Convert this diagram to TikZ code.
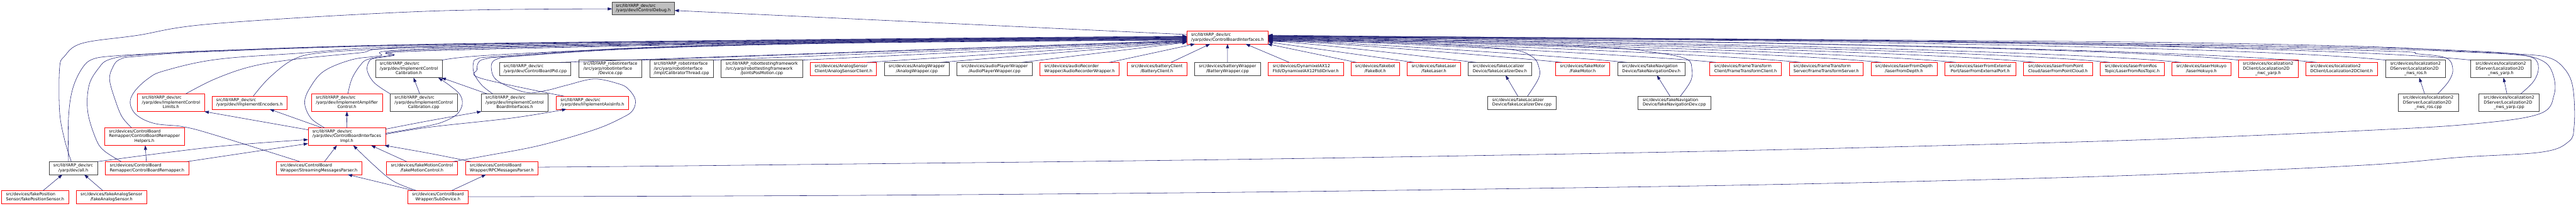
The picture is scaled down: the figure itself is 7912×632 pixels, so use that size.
\documentclass[tikz,border=0pt]{standalone}
\usepackage{fontspec}
\setmainfont{DejaVu Sans}
\usetikzlibrary{arrows.meta,calc}
\definecolor{eblue}{HTML}{191970}
\definecolor{nbord}{HTML}{404040}
\definecolor{rootfill}{HTML}{BFBFBF}
\newcommand\lbl[2]{\begin{tabular}{@{}l@{}}#1\\\multicolumn{1}{@{}c@{}}{#2}\end{tabular}}
\newcommand\mknode[8]{%
 \pgfmathsetmacro\mkW{(#4-#3)*0.75}%
 \pgfmathsetmacro\mkH{#6*0.75}%
 \pgfmathsetmacro\mkX{(#3+#4)/2}%
 \node[#1,minimum width=\mkW pt,minimum height=\mkH pt] (#2) at (\mkX,#5) {\lbl{#7}{#8}};}
\begin{document}
\begin{tikzpicture}[x=0.75pt,y=-0.75pt,
 nb/.style={draw=nbord,line width=1pt,fill=white,inner sep=0pt,outer sep=0pt,font=\fontsize{9.5}{11.2}\selectfont},
 nr/.style={nb,draw=red},
 nroot/.style={nb,fill=rootfill},
 edg/.style={draw=eblue,line width=0.8pt,-{Triangle[length=10pt,width=7pt]}},
 pls/.style={smooth,tension=0.6}]
\fill[white] (0,0) rectangle (7912,632);
\useasboundingbox (0,0) rectangle (7912,632);
% ---- nodes
\mknode{nroot}{root}{1879.8}{2071.8}{25.8}{40}{src/libYARP\_dev/src}{/yarp/dev/IControlDebug.h}
\mknode{nr}{cbi}{3645.1}{3895.1}{115.3}{40}{src/libYARP\_dev/src}{/yarp/dev/ControlBoardInterfaces.h}
% row 2
\mknode{nb}{iccH}{1153.3}{1358.3}{211.9}{54.4}{src/libYARP\_dev/src\\/yarp/dev/ImplementControl}{Calibration.h}
\mknode{nb}{cbpid}{1534.7}{1753}{211.9}{40}{src/libYARP\_dev/src}{/yarp/dev/ControlBoardPid.cpp}
\mknode{nb}{devcpp}{1777.9}{1971.5}{211.9}{54.4}{src/libYARP\_robotinterface\\/src/yarp/robotinterface}{/Device.cpp}
\mknode{nb}{calth}{1995.6}{2190.4}{211.9}{54.4}{src/libYARP\_robotinterface\\/src/yarp/robotinterface}{/impl/CalibratorThread.cpp}
\mknode{nb}{jpm}{2214.4}{2465.3}{211.9}{54.4}{src/libYARP\_robottestingframework\\/src/yarp/robottestingframework}{/JointsPosMotion.cpp}
\mknode{nr}{asc}{2489.3}{2691.8}{211.9}{40}{src/devices/AnalogSensor}{Client/AnalogSensorClient.h}
\mknode{nb}{awcpp}{2716.6}{2915.3}{211.9}{40}{src/devices/AnalogWrapper}{/AnalogWrapper.cpp}
\mknode{nb}{apw}{2938.8}{3170.3}{211.9}{40}{src/devices/audioPlayerWrapper}{/AudioPlayerWrapper.cpp}
\mknode{nr}{arw}{3194.3}{3437.2}{211.9}{40}{src/devices/audioRecorder}{Wrapper/AudioRecorderWrapper.h}
\mknode{nr}{bc}{3461.2}{3645.1}{211.9}{40}{src/devices/batteryClient}{/BatteryClient.h}
\mknode{nb}{bw}{3669.5}{3871.2}{211.9}{40}{src/devices/batteryWrapper}{/BatteryWrapper.cpp}
\mknode{nr}{dyn}{3894.7}{4126.3}{211.9}{40}{src/devices/DynamixelAX12}{Ftdi/DynamixelAX12FtdiDriver.h}
\mknode{nr}{fbot}{4149.8}{4298}{211.9}{40}{src/devices/fakebot}{/FakeBot.h}
\mknode{nr}{flaser}{4322.4}{4485.3}{211.9}{40}{src/devices/fakeLaser}{/fakeLaser.h}
\mknode{nb}{flocH}{4509.3}{4704.2}{211.9}{40}{src/devices/fakeLocalizer}{Device/fakeLocalizerDev.h}
\mknode{nr}{fmotor}{4778.3}{4943.7}{211.9}{40}{src/devices/fakeMotor}{/FakeMotor.h}
\mknode{nb}{fnavH}{4968.5}{5175.6}{211.9}{40}{src/devices/fakeNavigation}{Device/fakeNavigationDev.h}
\mknode{nr}{ftc}{5251.3}{5471.5}{211.9}{40}{src/devices/frameTransform}{Client/FrameTransformClient.h}
\mknode{nr}{fts}{5495.5}{5722.8}{211.9}{40}{src/devices/frameTransform}{Server/FrameTransformServer.h}
\mknode{nr}{lfd}{5746.4}{5949.3}{211.9}{40}{src/devices/laserFromDepth}{/laserFromDepth.h}
\mknode{nr}{lfe}{5972.8}{6191.7}{211.9}{40}{src/devices/laserFromExternal}{Port/laserFromExternalPort.h}
\mknode{nr}{lfpc}{6215.3}{6426.6}{211.9}{40}{src/devices/laserFromPoint}{Cloud/laserFromPointCloud.h}
\mknode{nr}{lfrt}{6450.6}{6647.1}{211.9}{40}{src/devices/laserFromRos}{Topic/LaserFromRosTopic.h}
\mknode{nr}{lhok}{6671.1}{6851.3}{211.9}{40}{src/devices/laserHokuyo}{/laserHokuyo.h}
\mknode{nr}{lnwc}{6874.8}{7057.9}{211.9}{54.4}{src/devices/localization2\\DClient/Localization2D}{\_nwc\_yarp.h}
\mknode{nr}{lcl}{7081.5}{7302.5}{211.9}{40}{src/devices/localization2}{DClient/Localization2DClient.h}
\mknode{nb}{lrosH}{7326.5}{7511.7}{211.9}{54.4}{src/devices/localization2\\DServer/Localization2D}{\_nws\_ros.h}
\mknode{nb}{lyarpH}{7588.3}{7773.5}{211.9}{54.4}{src/devices/localization2\\DServer/Localization2D}{\_nws\_yarp.h}
% row 3
\mknode{nr}{icl}{422.6}{628}{315.9}{54.4}{src/libYARP\_dev/src\\/yarp/dev/ImplementControl}{Limits.h}
\mknode{nr}{ienc}{651.5}{881}{315.9}{40}{src/libYARP\_dev/src}{/yarp/dev/ImplementEncoders.h}
\mknode{nr}{iamp}{956.7}{1174.3}{315.9}{54.4}{src/libYARP\_dev/src\\/yarp/dev/ImplementAmplifier}{Control.h}
\mknode{nb}{iccC}{1198.7}{1404.2}{315.9}{54.4}{src/libYARP\_dev/src\\/yarp/dev/ImplementControl}{Calibration.cpp}
\mknode{nb}{icbi}{1478.3}{1683.6}{315.9}{54.4}{src/libYARP\_dev/src\\/yarp/dev/ImplementControl}{BoardInterfaces.h}
\mknode{nr}{iai}{1708}{1931}{315.9}{40}{src/libYARP\_dev/src}{/yarp/dev/ImplementAxisInfo.h}
\mknode{nb}{flocC}{4569.9}{4779.1}{315.9}{40}{src/devices/fakeLocalizer}{Device/fakeLocalizerDev.cpp}
\mknode{nb}{fnavC}{5030.8}{5253.9}{315.9}{40}{src/devices/fakeNavigation}{Device/fakeNavigationDev.cpp}
\mknode{nb}{lrosC}{7365.6}{7550.8}{315.9}{54.4}{src/devices/localization2\\DServer/Localization2D}{\_nws\_ros.cpp}
\mknode{nb}{lyarpC}{7614}{7798.7}{315.9}{54.4}{src/devices/localization2\\DServer/Localization2D}{\_nws\_yarp.cpp}
% row 4
\mknode{nr}{cbrh}{320.7}{566.5}{420}{54.4}{src/devices/ControlBoard\\Remapper/ControlBoardRemapper}{Helpers.h}
\mknode{nr}{cbii}{946.2}{1184}{420}{54.4}{src/libYARP\_dev/src\\/yarp/dev/ControlBoardInterfaces}{Impl.h}
% row 5
\mknode{nb}{allh}{150.7}{299.3}{517}{40}{src/libYARP\_dev/src}{/yarp/dev/all.h}
\mknode{nr}{cbr}{323.2}{580}{517}{40}{src/devices/ControlBoard}{Remapper/ControlBoardRemapper.h}
\mknode{nr}{smp}{847.7}{1111.6}{517}{40}{src/devices/ControlBoard}{Wrapper/StreamingMessagesParser.h}
\mknode{nr}{fmc}{1186.5}{1405.4}{517}{40}{src/devices/fakeMotionControl}{/fakeMotionControl.h}
\mknode{nr}{rpc}{1429.9}{1652.5}{517}{40}{src/devices/ControlBoard}{Wrapper/RPCMessagesParser.h}
% row 6
\mknode{nr}{fps}{5.1}{210.4}{606}{40}{src/devices/fakePosition}{Sensor/fakePositionSensor.h}
\mknode{nr}{fas}{234.4}{450.3}{606}{40}{src/devices/fakeAnalogSensor}{/fakeAnalogSensor.h}
\mknode{nr}{subd}{1253}{1437}{606}{40}{src/devices/ControlBoard}{Wrapper/SubDevice.h}
% ---- edges to root
\draw[edg] ($(cbi.west)+(0,-9)$) -- ($(root.east)+(0,6.5)$);
\draw[edg] plot[pls] coordinates {($(allh.north)+(-6,0)$) (197.8,427.4) (183,342.7) (183,209.7) (197.8,173.4) (252.5,133.1) (420.9,108.9) (660,72.6) (1320,34.3) ($(root.west)+(0,1.6)$)};
% ---- left side to cbi
\draw[edg] plot[pls] coordinates {($(allh.north)+(-14.6,0)$) (210.4,363) (223,274) (252.5,209.7) (286.2,181.5) (357.7,171.4) (505,163.3) (660,155.5) (1320,136) (2640,120) ($(cbi.west)+(0,-4)$)};
\draw[edg] plot[pls] coordinates {($(cbr.north)+(-79,0)$) (319.9,463.7) (294.6,427.4) (269.4,342.7) (273.6,262) (303,209.7) (334.6,183.5) (420.9,169.4) (660,156.5) (1320,137) (2640,121) ($(cbi.west)+(0,-3)$)};
\draw[edg] plot[pls] coordinates {($(cbrh.north)+(-39.6,0)$) (374.6,358.9) (353.5,306.5) (336.7,246) (345.1,209.7) (366.2,183.5) (420.9,173.4) (660,158) (1320,138) (2640,122) ($(cbi.west)+(0,-2)$)};
\draw[edg] plot[pls] coordinates {($(smp.north)+(-58.7,0)$) (660,415.3) (564,390) (475.6,380) (420.9,354.8) (399.8,318.5) (412.5,282.3) (454.5,242) (505,217.7) (660,183.5) (900,165) (1320,141) (2640,123) ($(cbi.west)+(0,-1)$)};
\draw[edg] plot[pls] coordinates {($(icl.north)+(45,0)$) (660,243) (770,205) (900,183) (1100,163) (1320,144) (2640,124) ($(cbi.west)+(0,0)$)};
\draw[edg] plot[pls] coordinates {($(ienc.north)+(11.5,0)$) (828.4,238) (904,181.5) (996.7,161.3) (1207,149) (1320,146) (2640,125) ($(cbi.west)+(0,1)$)};
\draw[edg] plot[pls] coordinates {($(cbii.north)+(-68.4,0)$) (954.6,362.9) (935.7,314.5) (954.6,266) (996.7,217.7) (1080.9,183.5) (1165,172) (1320,150) (2640,126) ($(cbi.west)+(0,2)$)};
\draw[edg] plot[pls] coordinates {($(iamp.north)+(2.8,0)$) (1080.9,242) (1106,201.6) (1131.4,182) (1207,169.4) (1320,153) (2640,127) ($(cbi.west)+(0,3)$)};
\draw[edg] plot[pls] coordinates {(iccC.north west) (1150,255) (1128,218) (1133,190) (1148.2,180) (1207,171.4) (1320,156) (2640,128) ($(cbi.west)+(0,4)$)};
\draw[edg] plot[pls] coordinates {(iccH.north east) (1500,170) (1980,148) (2640,129) ($(cbi.west)+(0,5)$)};
\draw[edg] plot[pls] coordinates {($(icbi.north west)+(35.3,0)$) (1480,262) (1456,225.8) (1454,193.5) (1466,181.5) (1530,173.4) (1980,146) (2640,130) ($(cbi.west)+(0,6)$)};
\draw[edg] plot[pls] coordinates {($(iai.north west)+(24.5,0)$) (1477.8,241) (1465.2,213.7) (1471.5,189.5) (1497,180) (1560,174) (1980,147) (2640,131) ($(cbi.west)+(0,7)$)};
\draw[edg] plot[pls] coordinates {($(fmc.north)+(95.6,0)$) (1488.4,479.8) (1656.7,447.6) (1825,399.2) (1909.2,362.9) (1943,340) (1951.3,306.5) (1930,274) (1900.8,258) (1825,243) (1740.9,262) (1677.8,278.2) (1614.6,284) (1530.4,250) (1509.4,213.7) (1522,183.5) (1600,172) (1980,149) (2640,132) ($(cbi.west)+(0,8)$)};
\draw[edg] ($(cbpid.north)+(76,0)$) -- ($(cbi.west)+(0,9)$);
\draw[edg] (devcpp.north east) -- ($(cbi.west)+(0,10)$);
\draw[edg] (calth.north east) -- ($(cbi.west)+(0,11)$);
\draw[edg] (jpm.north east) -- ($(cbi.west)+(0,12)$);
\draw[edg] ($(asc.north)+(72.5,0)$) -- ($(cbi.west)+(0,13)$);
\draw[edg] ($(awcpp.north)+(72.3,0)$) -- ($(cbi.west)+(0,14)$);
\draw[edg] ($(apw.north)+(84,0)$) -- ($(cbi.west)+(0,15)$);
\draw[edg] ($(arw.north)+(91.5,0)$) -- ($(cbi.south west)+(25,0)$);
\draw[edg] ($(bc.north)+(43.5,0)$) -- ($(cbi.south)+(-53.4,0)$);
\draw[edg] (bw.north) -- (cbi.south);
% ---- right side to cbi
\draw[edg] ($(dyn.north)+(-50.5,0)$) -- ($(cbi.south)+(56,0)$);
\draw[edg] ($(fbot.north)+(-57.7,0)$) -- ($(cbi.south east)+(-2,0)$);
\draw[edg] ($(flaser.north)+(-60.8,0)$) -- ($(cbi.east)+(0,14)$);
\draw[edg] ($(flocH.north)+(-72.2,0)$) .. controls +(-96,-10) and +(96,0) .. ($(cbi.east)+(0,12)$);
\draw[edg] ($(fmotor.north)+(-64.2,0)$) .. controls +(-135,-14) and +(135,0) .. ($(cbi.east)+(0,10)$);
\draw[edg] ($(fnavH.north)+(-75.3,0)$) .. controls +(-165,-17) and +(165,0) .. ($(cbi.east)+(0,9)$);
\draw[edg] ($(ftc.north)+(-91,0)$) .. controls +(-206,-22) and +(206,0) .. ($(cbi.east)+(0,7)$);
\draw[edg] ($(fts.north)+(-78.7,0)$) .. controls +(-245,-26) and +(245,0) .. ($(cbi.east)+(0,6)$);
\draw[edg] ($(lfd.north)+(-69,0)$) .. controls +(-283,-30) and +(283,0) .. ($(cbi.east)+(0,5)$);
\draw[edg] ($(lfe.north)+(-75,0)$) .. controls +(-317,-33) and +(317,0) .. ($(cbi.east)+(0,4)$);
\draw[edg] ($(lfpc.north)+(-71.6,0)$) .. controls +(-353,-37) and +(353,0) .. ($(cbi.east)+(0,3)$);
\draw[edg] ($(lfrt.north)+(-68,0)$) .. controls +(-388,-41) and +(388,0) .. ($(cbi.east)+(0,2)$);
\draw[edg] ($(lhok.north)+(-62.3,0)$) .. controls +(-421,-44) and +(421,0) .. ($(cbi.east)+(0,1)$);
\draw[edg] (lnwc.north west) .. controls +(-447,-47) and +(447,0) .. ($(cbi.east)+(0,0)$);
\draw[edg] ($(lcl.north)+(-76.4,0)$) .. controls +(-483,-51) and +(483,0) .. ($(cbi.east)+(0,-1)$);
\draw[edg] (lrosH.north west) .. controls +(-515,-54) and +(515,0) .. ($(cbi.east)+(0,-2)$);
\draw[edg] (lyarpH.north west) .. controls +(-554,-58) and +(554,0) .. ($(cbi.east)+(0,-4)$);
\draw[edg] plot[pls] coordinates {($(flocC.north)+(17,0)$) (4725.2,242) (4727.3,209.7) (4704.2,173.4) (4620,150) (4300,132) ($(cbi.east)+(0,11)$)};
\draw[edg] plot[pls] coordinates {($(fnavC.north)+(18.5,0)$) (5192.4,250) (5196.6,213.7) (5179.8,181.5) (5083,161.3) (4914.6,145) (4400,128) ($(cbi.east)+(0,8)$)};
\draw[edg] plot[pls] coordinates {($(lrosC.north)+(29,0)$) (7521,250) (7533.6,213.7) (7514,179) (7428.4,166) (7260,155.2) (6000,130) (4700,118) ($(cbi.east)+(0,-3)$)};
\draw[edg] plot[pls] coordinates {($(lyarpC.north)+(35.5,0)$) (7781.9,250) (7796.6,209.7) (7781.9,179) (7723,168) (7554.6,159.3) (7260,150) (6000,127) (4700,116) ($(cbi.east)+(0,-5)$)};
\draw[edg] plot[pls] coordinates {($(rpc.east)+(0,-3)$) (1980,511.3) (2640,504) (3300,496.8) (3960,487.9) (4620,477) (5280,464.5) (5940,448.4) (6600,429.4) (7260,401.5) (7596.7,381) (7800,350) (7845,290) (7840,225) (7807,186) (7723,166) (7554.6,155.2) (7260,146) (6600,135) (5500,124) (4620,118) ($(cbi.east)+(0,-6)$)};
\draw[edg] plot[pls] coordinates {($(subd.east)+(0,-1)$) (1980,603.6) (2640,600.8) (3300,596) (3960,589.5) (4620,580.6) (5280,570.6) (5940,556.5) (6600,537.5) (7260,508) (7554.6,483.9) (7807,467.7) (7890,435) (7906,390) (7906,302) (7895,242) (7866,200) (7830,178) (7765,168) (7554.6,157.3) (7260,143) (6600,130) (5500,121) (4620,115) ($(cbi.east)+(0,-7)$)};
% ---- local edges
\draw[edg] ($(flocC.north)+(-12.5,0)$) -- ($(flocH.south)+(17.5,0)$);
\draw[edg] ($(fnavC.north)+(-13,0)$) -- ($(fnavH.south)+(17,0)$);
\draw[edg] ($(lrosC.north)+(-11,0)$) -- ($(lrosH.south)+(11.4,0)$);
\draw[edg] ($(lyarpC.north)+(-6.5,0)$) -- ($(lyarpH.south)+(8.4,0)$);
\draw[edg] plot[pls] coordinates {(allh.north east) (660,451.6) ($(cbii.west)+(0,9.4)$)};
\draw[edg] ($(cbr.north east)+(-5.5,0)$) -- ($(cbii.west)+(0,21.5)$);
\draw[edg] ($(cbr.north)+(-2,0)$) -- ($(cbrh.south)+(2.5,0)$);
\draw[edg] ($(cbii.north west)+(0,6.4)$) -- (icl.south east);
\draw[edg] ($(smp.north)+(17,0)$) -- ($(cbii.south)+(-30.5,0)$);
\draw[edg] ($(cbii.north)+(-76.8,0)$) -- ($(ienc.south)+(62,0)$);
\draw[edg] (cbii.north) -- (iamp.south);
\draw[edg] ($(iccC.north)+(-12.2,0)$) -- ($(iccH.south)+(14.5,0)$);
\draw[edg] plot[pls] coordinates {($(cbii.north east)+(0,4.4)$) (1320,371) (icbi.south west)};
\draw[edg] plot[pls] coordinates {($(cbii.east)+(0,-10)$) (1320,386) (1370,371) (1405,350) (1420,320) (1412,290) (1380,262) ($(iccH.south east)+(-12,0)$)};
\draw[edg] ($(icbi.north west)+(18.5,0)$) -- ($(iccH.south east)+(-2,0)$);
\draw[edg] plot[pls] coordinates {($(cbii.east)+(0,-7)$) (1320,391) (1572.5,363) ($(iai.south)+(-80,0)$)};
\draw[edg] plot[pls] coordinates {($(subd.north)+(-66.3,0)$) (1207.1,556.5) (1144,504) ($(cbii.south)+(20,0)$)};
\draw[edg] ($(subd.north)+(-74.7,0)$) -- ($(smp.south)+(88.5,0)$);
\draw[edg] ($(subd.north)+(42.3,0)$) -- ($(rpc.south)+(-48.6,0)$);
\draw[edg] ($(fmc.north)+(-46.8,0)$) -- ($(cbii.south)+(74.7,0)$);
\draw[edg] plot[pls] coordinates {($(rpc.north)+(-95,0)$) (1320,471.8) ($(cbii.south east)+(-3,0)$)};
\draw[edg] ($(fps.north)+(24.8,0)$) -- ($(allh.south)+(-33.5,0)$);
\draw[edg] ($(fas.north)+(-26.7,0)$) -- ($(allh.south)+(33.8,0)$);
\end{tikzpicture}
\end{document}
